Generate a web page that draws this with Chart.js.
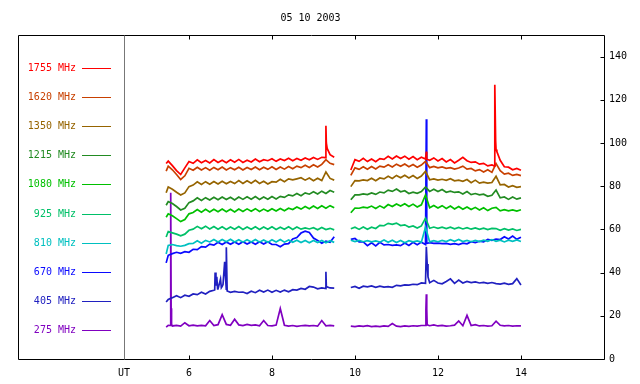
<!DOCTYPE html>
<html>
<head>
<meta charset="utf-8">
<script src="https://cdn.jsdelivr.net/npm/chart.js@4.4.0/dist/chart.umd.min.js"></script>
<style>
html, body { margin: 0; padding: 0; background: #fff; }
</style>
</head>
<body>
<canvas id="chart" width="640" height="384"></canvas>
<script>
const title = '05 10 2003';
const freqs = ['1755 MHz', '1620 MHz', '1350 MHz', '1215 MHz', '1080 MHz', '925 MHz', '810 MHz', '670 MHz', '405 MHz', '275 MHz'];
const colors = ['#ff0000', '#c84000', '#966400', '#228b22', '#00c000', '#00c068', '#00c0c0', '#0a0aff', '#2020c0', '#8000c0'];
const xMin = 4.434, xMax = 16;
const xTicks = [6, 8, 10, 12, 14];
const yTicks = [0, 20, 40, 60, 80, 100, 120, 140];

// UT hours, before and after the gap
const times1 = [5.45, 5.5, 5.6, 5.7, 5.8, 5.9, 6.0, 6.1, 6.2, 6.3,
  6.4, 6.5, 6.6, 6.7, 6.8, 6.9, 7.0, 7.1, 7.2, 7.3,
  7.4, 7.5, 7.6, 7.7, 7.8, 7.9, 8.0, 8.1, 8.2, 8.3,
  8.4, 8.5, 8.6, 8.7, 8.8, 8.9, 9.0, 9.1, 9.2, 9.3,
  9.4, 9.5];
const times2 = [9.9, 10.0, 10.1, 10.2, 10.3, 10.4, 10.5, 10.6, 10.7, 10.8,
  10.9, 11.0, 11.1, 11.2, 11.3, 11.4, 11.5, 11.6, 11.7, 11.8,
  11.9, 12.0, 12.1, 12.2, 12.3, 12.4, 12.5, 12.6, 12.7, 12.8,
  12.9, 13.0, 13.1, 13.2, 13.3, 13.4, 13.5, 13.6, 13.7, 13.8,
  13.9, 14.0];

const f1755a = [90.5, 91.6, 89.5, 87.2, 85.4, 88.5, 91.4, 90.6, 92.2, 90.9,
  91.9, 90.8, 92.3, 91.0, 92.0, 90.9, 92.2, 91.1, 92.4, 91.0,
  92.0, 91.2, 92.6, 91.3, 92.3, 91.8, 92.7, 91.5, 92.6, 91.9,
  92.9, 91.8, 92.8, 92.0, 93.1, 92.2, 93.3, 92.4, 93.4, 93.2,
  94.6, 93.4];
const f1755b = [87.5, 92.3, 91.5, 92.9, 91.4, 92.6, 91.3, 92.8, 92.4, 93.8,
  92.6, 94.0, 92.8, 93.9, 92.5, 93.7, 92.3, 93.4, 92.6, 92.0,
  93.1, 91.7, 92.8, 91.2, 92.3, 90.8, 92.0, 93.4, 91.8, 91.0,
  91.3, 90.2, 90.6, 89.4, 89.9, 97.0, 92.0, 89.0, 88.8, 87.6,
  88.2, 87.4];
const f1755s = [[9.30, 108], [9.31, 100], [9.33, 97.5], [11.72, 96], [11.73, 92.5],
  [13.36, 89.3], [13.37, 127], [13.39, 101], [13.42, 96]];

const f1620a = [87.0, 89.3, 87.6, 85.4, 83.1, 84.8, 88.3, 87.4, 88.8, 87.5,
  88.6, 87.4, 88.7, 87.6, 88.9, 87.5, 88.6, 87.6, 88.8, 87.5,
  88.7, 87.7, 88.9, 87.6, 88.8, 87.8, 89.0, 87.7, 88.9, 87.9,
  89.1, 88.1, 89.3, 88.6, 89.7, 88.7, 89.9, 88.9, 90.1, 92.3,
  90.6, 90.0];
const f1620b = [85.0, 88.5, 87.8, 89.0, 87.9, 89.1, 88.0, 89.3, 88.8, 89.9,
  88.9, 90.2, 89.2, 90.3, 89.0, 90.0, 88.8, 89.8, 91.5, 88.6,
  89.2, 88.5, 88.9, 88.3, 88.6, 87.9, 88.4, 89.3, 87.9, 88.2,
  87.1, 87.7, 86.6, 87.6, 86.4, 90.5, 87.2, 85.6, 86.0, 85.0,
  85.5, 84.9];

const f1350a = [77.0, 79.6, 78.6, 77.2, 75.9, 76.9, 79.8, 80.5, 82.0, 80.8,
  82.1, 80.9, 82.2, 81.0, 82.3, 81.1, 82.2, 81.2, 82.6, 81.3,
  82.5, 81.4, 82.7, 81.3, 82.3, 81.0, 82.1, 81.9, 83.2, 82.1,
  83.4, 82.9, 83.4, 83.9, 82.8, 83.8, 82.5, 83.7, 82.6, 86.6,
  83.6, 82.8];
const f1350b = [79.8, 82.6, 82.5, 82.9, 82.6, 83.7, 82.5, 83.8, 83.4, 84.6,
  83.6, 85.0, 83.9, 85.1, 83.8, 84.9, 83.6, 84.7, 86.9, 83.0,
  83.4, 82.8, 83.2, 82.7, 83.5, 82.5, 82.8, 82.3, 83.1, 81.6,
  82.8, 81.4, 81.9, 81.4, 81.7, 84.6, 80.6, 80.8, 79.6, 80.2,
  79.5, 79.8];

const f1215a = [71.2, 72.9, 72.0, 70.6, 69.0, 69.8, 72.4, 73.2, 74.6, 73.4,
  74.7, 73.6, 74.9, 73.7, 75.0, 73.8, 74.9, 73.6, 75.0, 73.9,
  75.1, 74.0, 75.2, 73.9, 75.0, 74.0, 75.2, 74.1, 75.3, 74.8,
  76.0, 75.5, 76.6, 75.6, 76.9, 76.3, 77.4, 76.4, 77.7, 76.6,
  78.0, 77.2];
const f1215b = [73.7, 76.0, 76.0, 76.4, 76.1, 76.9, 76.2, 77.3, 76.9, 78.2,
  77.6, 78.7, 77.4, 77.9, 76.6, 77.2, 76.7, 77.5, 79.6, 77.6,
  78.6, 77.5, 78.5, 77.2, 77.7, 77.1, 77.4, 76.4, 77.5, 76.1,
  76.6, 76.0, 76.3, 75.3, 75.8, 78.2, 74.6, 75.0, 73.9, 75.0,
  74.0, 74.6];

const f1080a = [65.6, 67.2, 66.3, 65.0, 63.6, 64.6, 67.2, 67.8, 69.2, 68.0,
  69.3, 68.1, 69.3, 68.2, 69.4, 68.2, 69.3, 68.1, 69.4, 68.3,
  69.5, 68.4, 69.6, 68.3, 69.4, 68.4, 69.6, 68.5, 69.7, 68.6,
  69.8, 69.2, 70.4, 69.4, 70.6, 69.6, 70.8, 69.7, 70.9, 69.8,
  71.0, 70.0];
const f1080b = [67.7, 69.9, 69.8, 70.3, 70.0, 70.8, 69.7, 70.9, 69.9, 71.5,
  70.6, 71.8, 70.8, 71.9, 70.6, 71.7, 70.4, 71.4, 76.0, 70.0,
  71.1, 69.9, 71.0, 69.7, 70.8, 69.5, 70.6, 69.3, 70.4, 69.2,
  70.2, 69.0, 70.0, 68.7, 69.8, 70.2, 68.6, 69.1, 68.6, 69.0,
  68.5, 69.1];

const f925a = [56.5, 59.0, 58.4, 57.8, 57.0, 57.8, 59.6, 60.1, 61.4, 60.3,
  61.5, 60.2, 61.3, 60.1, 61.2, 60.0, 61.1, 60.1, 61.3, 60.0,
  61.1, 60.1, 61.2, 60.0, 61.1, 60.1, 61.2, 60.0, 61.0, 60.1,
  61.2, 60.0, 61.1, 60.1, 60.7, 60.2, 60.8, 59.8, 60.9, 59.9,
  60.5, 59.8];
const f925b = [60.3, 61.0, 60.0, 61.1, 60.1, 61.0, 60.4, 61.9, 61.7, 62.8,
  62.3, 62.9, 61.8, 62.1, 61.1, 61.6, 60.6, 61.6, 65.2, 60.5,
  61.1, 60.5, 61.0, 60.4, 61.0, 60.3, 60.9, 60.2, 60.8, 60.1,
  60.7, 60.0, 60.6, 59.9, 60.5, 60.4, 59.6, 60.3, 59.7, 60.2,
  59.5, 60.0];

const f810a = [48.6, 52.6, 53.0, 52.5, 52.2, 52.6, 53.4, 53.5, 54.7, 53.6,
  54.9, 54.2, 55.3, 54.2, 55.3, 54.3, 55.4, 54.2, 55.2, 54.1,
  55.2, 54.2, 55.3, 54.1, 55.1, 54.0, 55.2, 54.2, 55.3, 54.1,
  55.1, 54.0, 55.0, 53.9, 54.9, 53.8, 54.9, 53.9, 54.9, 53.8,
  54.8, 54.0];
const f810b = [55.0, 54.4, 54.9, 54.3, 54.8, 54.2, 54.7, 54.1, 55.1, 54.0,
  55.0, 53.9, 54.9, 53.8, 54.8, 54.2, 54.7, 54.1, 61.0, 54.2,
  54.8, 54.3, 54.9, 54.4, 55.2, 54.5, 55.3, 54.4, 54.9, 54.3,
  54.9, 54.4, 55.0, 54.5, 55.3, 54.5, 55.0, 54.2, 55.0, 54.5,
  55.1, 54.4];

const f670a = [44.5, 48.0, 48.8, 49.4, 48.9, 49.7, 49.4, 50.8, 50.6, 52.0,
  51.8, 53.2, 52.7, 54.0, 53.0, 54.2, 53.1, 54.2, 53.1, 54.3,
  53.2, 54.2, 53.1, 54.3, 53.2, 54.3, 53.0, 53.0, 52.0, 53.2,
  53.4, 55.6, 56.2, 58.3, 59.2, 58.6, 56.0, 54.9, 53.6, 54.6,
  54.0, 56.6];
const f670b = [55.4, 55.8, 54.2, 54.2, 52.5, 53.8, 52.4, 54.0, 52.8, 53.0,
  52.6, 52.8, 52.5, 53.7, 52.6, 54.0, 52.9, 54.1, 53.0, 53.9,
  53.5, 53.6, 53.4, 53.5, 53.1, 53.4, 53.0, 53.6, 53.3, 54.3,
  53.9, 54.5, 54.2, 55.4, 54.9, 55.5, 55.3, 56.6, 55.6, 56.9,
  55.4, 56.4];
const f670s = [[11.72, 111], [11.73, 53.5]];

const f405a = [26.4, 27.6, 28.4, 29.3, 28.4, 29.5, 29.0, 30.1, 29.8, 30.9,
  30.1, 31.3, 31.8, 32.5, 33.6, 32.0, 30.9, 31.3, 30.9, 31.0,
  30.3, 31.4, 30.7, 31.8, 31.0, 31.9, 30.9, 31.8, 31.0, 31.9,
  31.1, 32.1, 31.9, 32.7, 32.3, 33.6, 33.3, 32.5, 32.9, 32.6,
  32.9, 32.8];
const f405b = [33.1, 33.6, 32.7, 33.7, 33.4, 33.8, 33.2, 33.7, 33.3, 33.5,
  33.2, 34.1, 33.9, 34.3, 34.2, 34.6, 34.4, 35.2, 35.0, 35.3,
  36.4, 35.2, 34.8, 35.9, 37.1, 35.0, 36.5, 35.2, 35.9, 35.4,
  35.7, 35.2, 35.5, 35.0, 35.4, 34.9, 34.7, 35.1, 34.6, 34.9,
  37.2, 34.3];
const f405s = [[6.62, 32.0], [6.63, 40], [6.65, 34], [6.67, 38], [6.69, 32.5],
  [6.76, 37], [6.78, 33], [6.82, 34.5], [6.86, 45], [6.88, 38], [6.90, 51.7], [6.92, 31.5],
  [9.30, 40.4], [9.31, 33.5], [11.72, 52], [11.74, 44], [11.76, 38]];

const f275a = [14.8, 15.6, 15.3, 15.6, 15.2, 16.8, 15.4, 15.7, 15.3, 15.6,
  15.4, 17.8, 15.5, 15.9, 20.5, 16.0, 15.6, 18.4, 15.8, 15.5,
  16.0, 15.6, 15.8, 15.4, 17.8, 15.5, 15.3, 15.7, 23.4, 15.6,
  15.2, 15.5, 15.1, 15.4, 15.6, 15.3, 15.5, 15.2, 17.8, 15.4,
  15.6, 15.3];
const f275b = [15.2, 15.0, 15.3, 15.1, 15.4, 15.0, 15.2, 15.0, 15.3, 15.1,
  16.4, 15.2, 15.0, 15.3, 15.1, 15.4, 15.2, 15.5, 15.6, 15.4,
  15.8, 15.3, 15.6, 15.2, 15.4, 15.7, 17.6, 15.4, 20.2, 15.5,
  15.9, 15.3, 15.5, 15.2, 15.4, 17.5, 15.6, 15.3, 15.5, 15.2,
  15.4, 15.3];
const f275s = [[5.55, 15.5], [5.56, 77], [5.57, 23.5], [5.58, 16],
  [11.71, 22.9], [11.72, 30], [11.73, 22.9], [11.74, 15.8]];

const series = [
  [f1755a, f1755b, f1755s],
  [f1620a, f1620b, []],
  [f1350a, f1350b, []],
  [f1215a, f1215b, []],
  [f1080a, f1080b, []],
  [f925a, f925b, []],
  [f810a, f810b, []],
  [f670a, f670b, f670s],
  [f405a, f405b, f405s],
  [f275a, f275b, f275s]
];

const FONT = '10px "DejaVu Sans Mono"';
const tickFont = { family: 'DejaVu Sans Mono', size: 10 };

function buildData(a, b, spikes) {
  const pts = times1.map((t, i) => ({ x: t, y: a[i] }))
    .concat([{ x: 9.7, y: null }])
    .concat(times2.map((t, i) => ({ x: t, y: b[i] })))
    .concat(spikes.map(s => ({ x: s[0], y: s[1] })));
  return pts.sort((p, q) => p.x - q.x);
}

const datasets = series.map((s, i) => ({
  label: freqs[i],
  data: buildData(s[0], s[1], s[2]),
  borderColor: colors[i],
  backgroundColor: colors[i],
  borderWidth: 1.7,
  pointRadius: 0,
  tension: 0,
  spanGaps: false
}));

// frame, ticks, title and the frequency list on the left
const framePlugin = {
  id: 'frame',
  afterDraw(chart) {
    const { ctx, chartArea: ca, scales: { x, y } } = chart;
    ctx.save();
    ctx.lineWidth = 1;
    ctx.strokeStyle = '#000';
    const L = 18.5, T = Math.round(ca.top) + 0.5, B = Math.round(ca.bottom) + 0.5, R = Math.round(ca.right) + 0.5;
    ctx.beginPath();
    ctx.moveTo(L, T); ctx.lineTo(R, T); ctx.lineTo(R, B); ctx.lineTo(L, B); ctx.closePath();
    xTicks.forEach(v => {
      const px = Math.round(x.getPixelForValue(v)) + 0.5;
      ctx.moveTo(px, T); ctx.lineTo(px, T + 4);
      ctx.moveTo(px, B); ctx.lineTo(px, B - 4);
    });
    yTicks.forEach(v => {
      const py = Math.round(y.getPixelForValue(v)) + 0.5;
      ctx.moveTo(R - 4, py); ctx.lineTo(R, py);
    });
    ctx.stroke();

    ctx.strokeStyle = '#777';
    const gx = Math.round(ca.left) + 0.5;
    ctx.beginPath(); ctx.moveTo(gx, T); ctx.lineTo(gx, B); ctx.stroke();

    ctx.font = FONT;
    ctx.textBaseline = 'middle';
    ctx.fillStyle = '#000';
    ctx.textAlign = 'center';
    ctx.fillText(title, 310.5, 18);

    chart.data.datasets.forEach((ds, i) => {
      const ly = Math.round(68 + i * 29.1);
      ctx.fillStyle = ds.borderColor;
      ctx.textAlign = 'right';
      ctx.fillText(ds.label, 76, ly);
      ctx.strokeStyle = ds.borderColor;
      ctx.beginPath(); ctx.moveTo(82, ly + 0.5); ctx.lineTo(111, ly + 0.5); ctx.stroke();
    });
    ctx.restore();
  }
};

new Chart(document.getElementById('chart'), {
  type: 'line',
  data: { datasets },
  options: {
    responsive: false,
    animation: false,
    devicePixelRatio: 1,
    layout: { padding: { left: 124, top: 35, right: 8, bottom: -3 } },
    plugins: { legend: { display: false }, tooltip: { enabled: false }, title: { display: false } },
    scales: {
      x: {
        type: 'linear', min: xMin, max: xMax,
        afterBuildTicks: s => { s.ticks = [xMin].concat(xTicks).map(v => ({ value: v })); },
        ticks: { callback: v => (v === xMin ? 'UT' : v), font: tickFont, color: '#000', padding: 8, maxRotation: 0, autoSkip: false },
        grid: { display: false, drawTicks: false },
        border: { display: false }
      },
      y: {
        position: 'right', min: 0, max: 150,
        afterBuildTicks: s => { s.ticks = yTicks.map(v => ({ value: v })); },
        ticks: { font: tickFont, color: '#000', padding: 5 },
        grid: { display: false, drawTicks: false },
        border: { display: false }
      }
    }
  },
  plugins: [framePlugin]
});
</script>
</body>
</html>
